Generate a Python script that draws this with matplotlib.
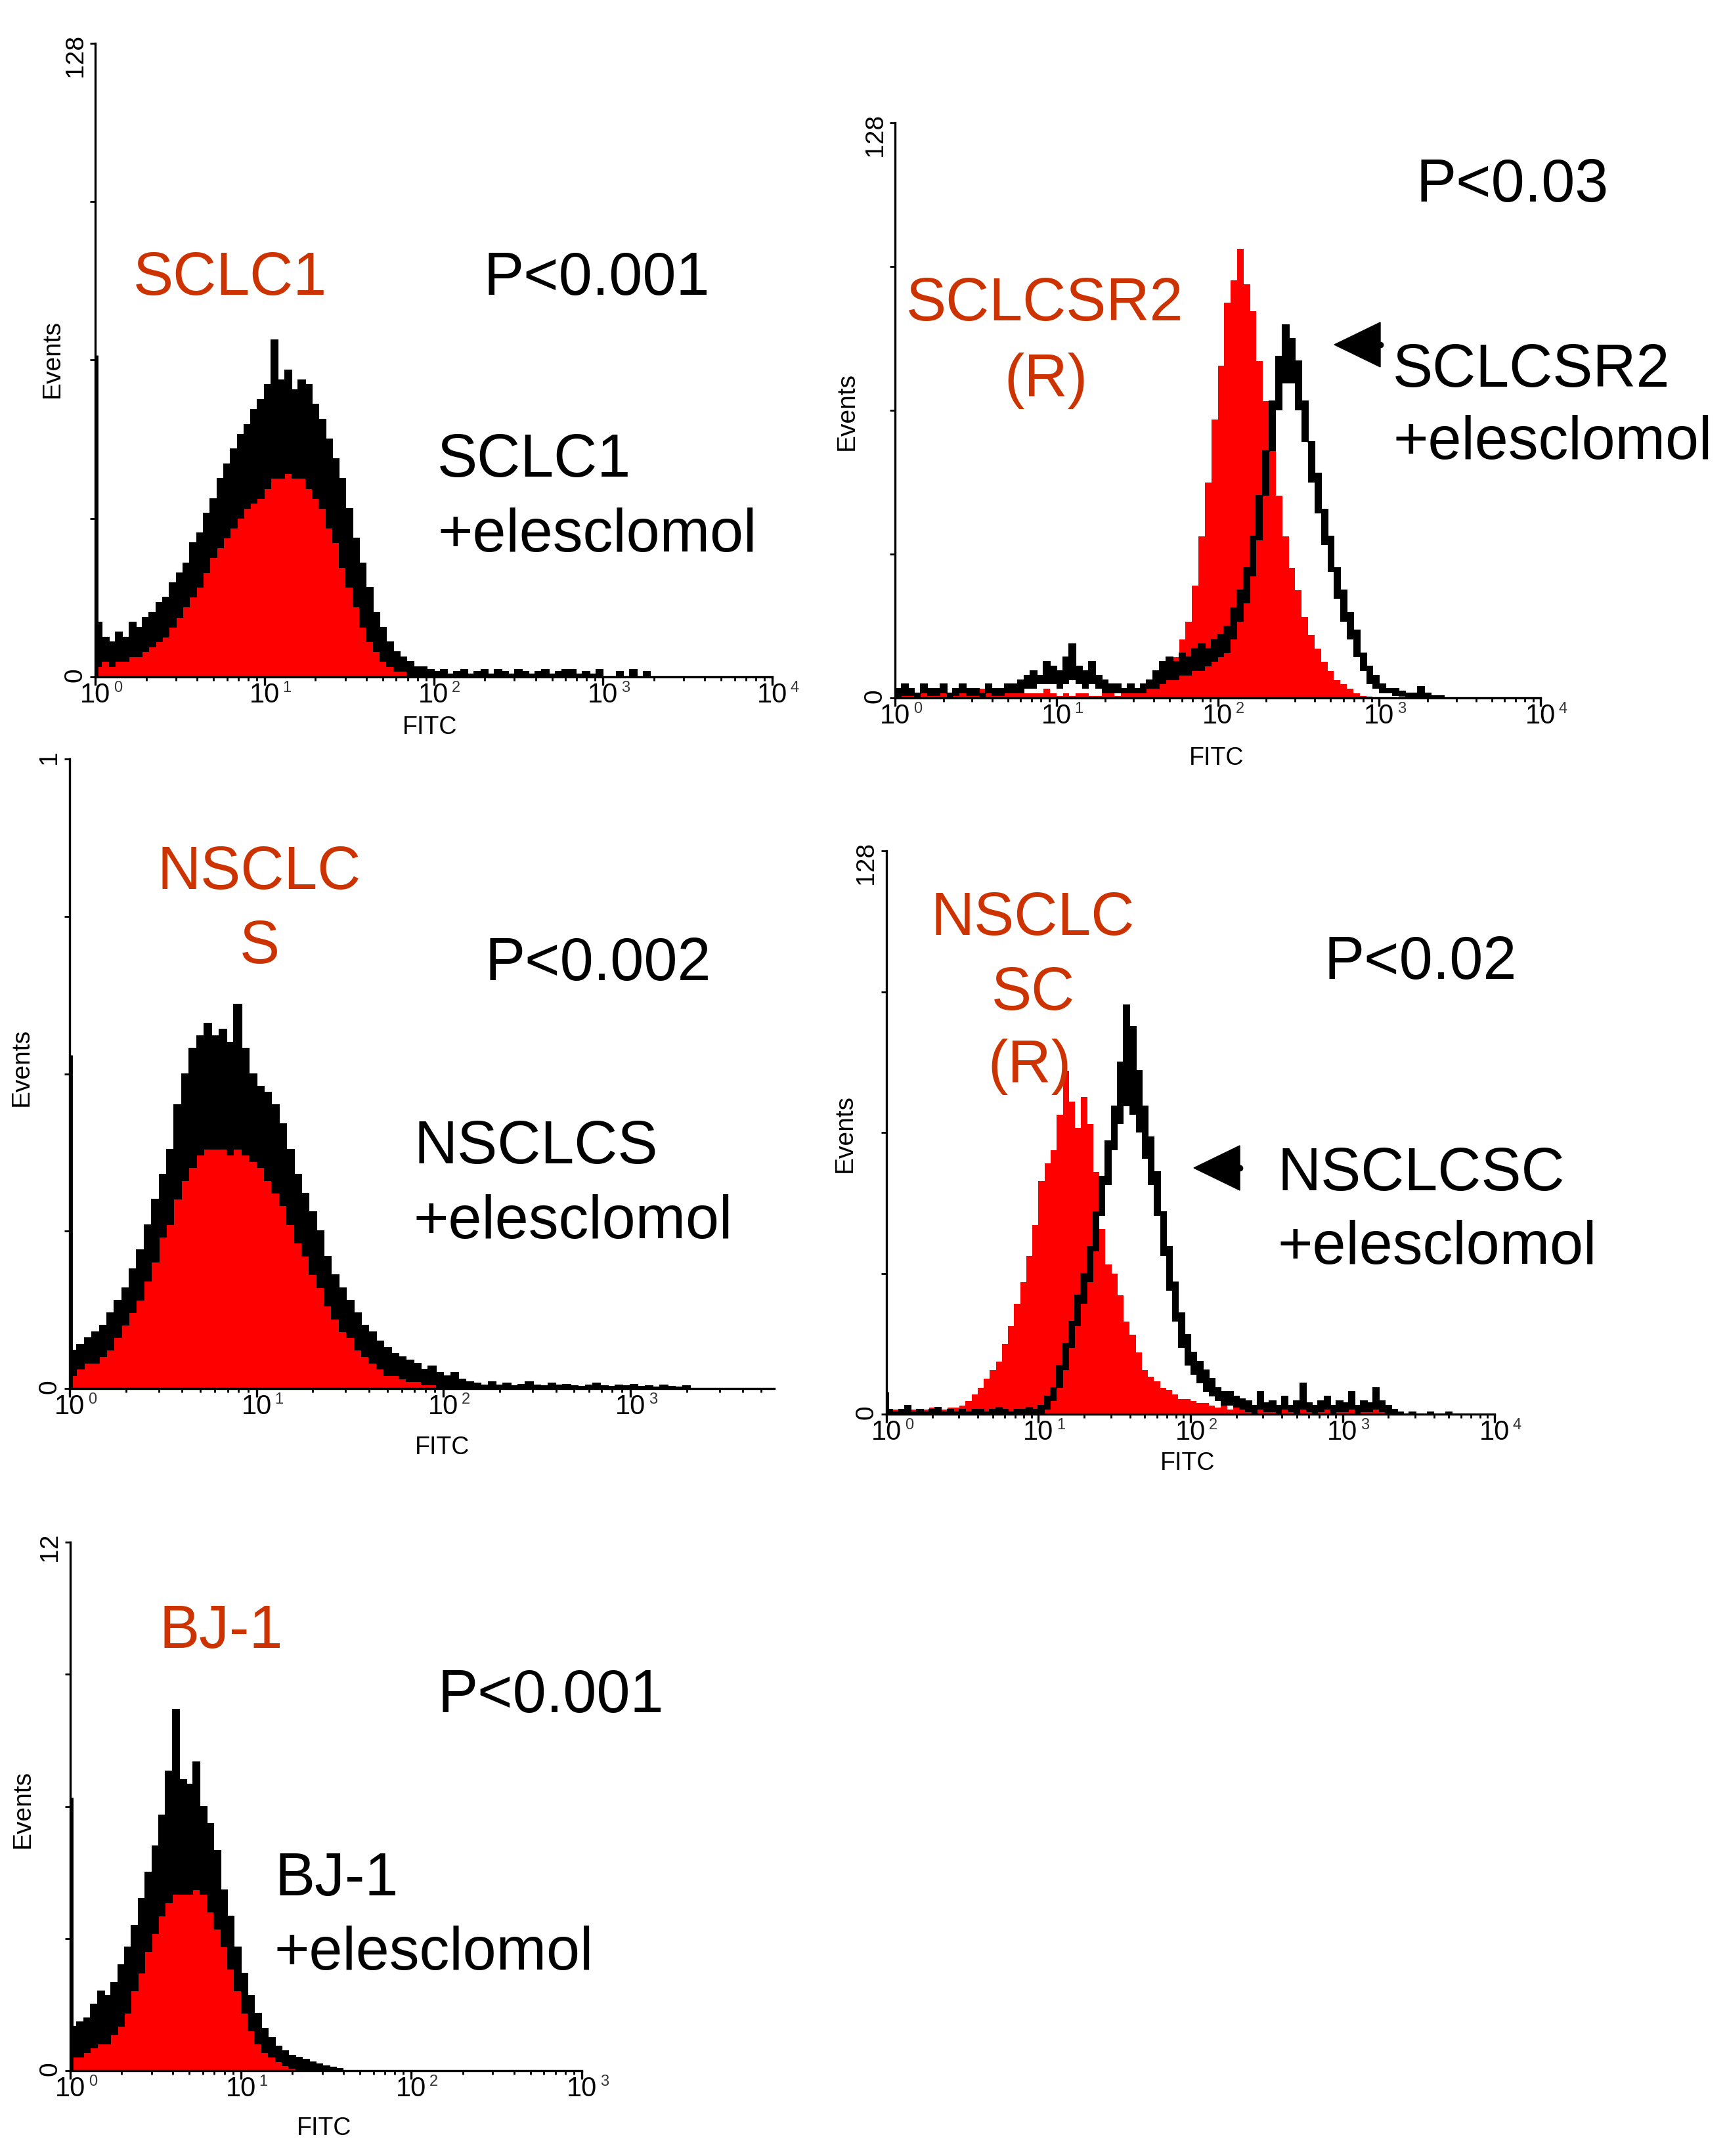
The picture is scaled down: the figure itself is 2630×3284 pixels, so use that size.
import numpy as np
import matplotlib.pyplot as plt
from matplotlib.patches import Polygon
from matplotlib.lines import Line2D
from matplotlib.ticker import LogLocator, NullFormatter

plt.rcParams['font.family'] = ['Liberation Sans', 'DejaVu Sans']

W, H = 2630, 3284
BIN = 0.04  # width of one channel bin, in log10 units
LABEL_RED = '#CC3300'
FILL_RED = '#FF0000'

# ---------------- data (counts per log channel bin) ----------------
# SCLC1
sclc1_ctrl = [3, 6, 4, 5, 4, 7, 8, 9, 10, 11, 12, 12, 14, 16, 18, 20, 22, 24, 27, 29,
              31, 32, 34, 35, 36, 38, 44, 40, 41, 40, 40, 38, 36, 34, 31, 28, 23, 18, 15, 11,
              8, 5, 3, 2, 1.5, 1, 0.5, 0.5, 0, 0.3]
sclc1_hi = [11, 8, 7, 9, 8, 11, 10, 12, 13, 15, 16, 19, 21, 23, 27, 29, 33, 36, 40, 43,
            46, 49, 51, 54, 56, 59, 68, 60, 62, 58, 60, 59, 55, 52, 48, 44, 40, 34, 28, 23,
            18, 13, 10, 7, 5, 4, 3, 2, 2, 1.5,
            1, 1.5, 0.5, 1, 1.5, 0.5, 1, 1.5, 0.5, 1.5, 1, 0.5, 1.5, 1, 0.5, 1, 1.5, 0.5,
            1, 1.5, 1.5, 0.5, 1, 0.5, 1.5, 0, 0, 1, 0, 1.5, 0, 1]
sclc1_lo = [2, 3, 2, 3, 3, 4, 4, 5, 6, 7, 8, 10, 12, 14, 16, 18, 21, 24, 26, 28,
            30, 32, 34, 35, 36, 38, 40, 40, 41, 40, 40, 38, 36, 34, 30, 27, 22, 18, 14, 10,
            7, 5, 3, 2, 1, 1, 0, 0, 0, 0,
            0, 0, 0, 0, 0, 0, 0, 0, 0, 0, 0, 0, 0, 0, 0, 0, 0, 0, 0, 0, 0, 0, 0, 0, 0, 0,
            0, 0, 0, 0, 0, 0]
sclc1_first = 65

# SCLCSR2 (R)
sclcsr2_ctrl = [1, 2, 1, 1, 2, 1, 2, 1, 1, 2, 1, 1, 2, 2, 1, 1, 2, 1, 1, 2,
                1, 1, 1, 2, 1, 0.5, 1, 0.5, 1, 1, 0.5, 0.5, 1, 1, 0.5, 1, 1, 2, 2, 3,
                4, 5, 6, 9, 13, 17, 25, 36, 48, 62, 74, 88, 93, 100, 92, 86, 75, 66, 55, 45,
                36, 29, 24, 18, 14, 11, 8, 6, 4, 3, 2, 1, 0.5, 0.3]
sclcsr2_hi = [2, 3, 2, 1, 3, 2, 2, 3, 1, 2, 3, 2, 2, 1, 3, 2, 2, 3, 3, 4,
              5, 6, 5, 8, 7, 6, 9, 12, 7, 6, 8, 5, 4, 3, 3, 2, 3, 2, 3, 4,
              6, 8, 9, 8, 10, 9, 11, 12, 11, 13, 14, 16, 20, 24, 29, 36, 45, 55, 66, 76,
              83, 80, 75, 66, 57, 50, 42, 36, 29, 24, 19, 15, 10, 7, 5, 3, 2, 2, 1.5, 1,
              1, 2.5, 1, 0.5, 0.5]
sclcsr2_lo = [0, 0.5, 0.5, 0, 1, 0.5, 0.5, 1, 0, 0.5, 1, 0.5, 0.5, 0, 1, 0.5, 0.5, 1, 1, 1,
              2, 2, 3, 3, 3, 2, 3, 4, 3, 2, 3, 2, 1, 1, 1, 1, 1, 1, 1, 2,
              2, 3, 4, 4, 5, 5, 6, 6, 7, 8, 9, 10, 13, 17, 21, 27, 35, 45, 55, 64,
              70, 70, 64, 57, 48, 41, 34, 28, 22, 17, 13, 9, 6, 3, 2, 1, 1, 0.5, 0.3, 0,
              0, 0, 0, 0, 0]
sclcsr2_first = 0

# NSCLCS (axis top is 1)
nsclcs_ctrl = [0.03, 0.04, 0.05, 0.04, 0.06, 0.07, 0.09, 0.11, 0.14, 0.17,
               0.20, 0.25, 0.30, 0.33, 0.35, 0.36, 0.37, 0.38, 0.41, 0.40,
               0.42, 0.40, 0.47, 0.40, 0.39, 0.40, 0.37, 0.34, 0.30, 0.28,
               0.25, 0.22, 0.20, 0.17, 0.14, 0.12, 0.10, 0.08, 0.07, 0.06,
               0.05, 0.04, 0.03, 0.025, 0.02, 0.015, 0.01, 0.01, 0.008, 0.005,
               0.004, 0.003, 0.003, 0.002]
nsclcs_hi = [0.06, 0.07, 0.08, 0.09, 0.10, 0.12, 0.14, 0.16, 0.19, 0.22,
             0.26, 0.30, 0.34, 0.38, 0.45, 0.50, 0.54, 0.56, 0.58, 0.56,
             0.57, 0.55, 0.61, 0.54, 0.50, 0.48, 0.47, 0.45, 0.42, 0.38,
             0.34, 0.31, 0.28, 0.25, 0.21, 0.18, 0.16, 0.14, 0.12, 0.10,
             0.09, 0.075, 0.065, 0.055, 0.05, 0.045, 0.04, 0.03, 0.035, 0.025,
             0.02, 0.025, 0.015, 0.01,
             0.008, 0.005, 0.01, 0.005, 0.008, 0.004, 0.006, 0.01, 0.005, 0.004,
             0.008, 0.005, 0.006, 0.004, 0.003, 0.005, 0.008, 0.004, 0.003, 0.005,
             0.004, 0.006, 0.003, 0.004, 0.002, 0.005, 0.003, 0.002, 0.004]
nsclcs_lo = [0.02, 0.03, 0.04, 0.04, 0.05, 0.06, 0.08, 0.10, 0.12, 0.14,
             0.17, 0.20, 0.24, 0.26, 0.30, 0.33, 0.35, 0.37, 0.38, 0.38,
             0.38, 0.37, 0.38, 0.37, 0.36, 0.35, 0.33, 0.31, 0.29, 0.26,
             0.23, 0.21, 0.18, 0.16, 0.13, 0.11, 0.09, 0.08, 0.06, 0.05,
             0.04, 0.03, 0.02, 0.02, 0.015, 0.01, 0.01, 0.005, 0.005, 0,
             0, 0, 0, 0,
             0, 0, 0, 0, 0, 0, 0, 0, 0, 0, 0, 0, 0, 0, 0, 0, 0, 0, 0, 0,
             0, 0, 0, 0, 0, 0, 0, 0, 0]
nsclcs_first = 0.53

# NSCLCSC (R)
nsclcsc_ctrl = [0.5, 1, 0.5, 0.5, 1, 0.5, 1, 1.5, 1, 1, 1.5,
                1.5, 2, 3, 4.5, 6, 8, 10, 12, 16, 20, 25, 30, 36, 43, 53, 57, 60, 68, 78,
                71, 65, 72, 66, 55, 42, 34, 32, 27, 21, 18, 14, 10, 8.5, 7.5, 6, 5.5, 4.5,
                3.5, 3.5, 3, 2.5, 2.5, 2,
                1.5, 2, 1, 1.5, 1, 2, 1.5, 1, 1, 2, 1.5, 1, 1, 1.5, 1, 2, 1, 1.5, 1, 1,
                2, 1, 1.5, 1, 1, 1.5, 1, 1, 1.5]
nsclcsc_hi = [1, 0.5, 1, 2, 0.5, 1, 0.5, 1, 1.5, 0.5, 1, 0.5, 1, 0.5, 1, 1, 0.5, 1, 1.5, 1,
              0.5, 1, 1, 1.5, 1,
              2, 4, 6, 11, 16, 21, 27, 32, 38, 46, 54, 62, 70, 80, 93, 88, 78, 70, 63, 55,
              46, 38, 30, 23, 18, 14, 12, 10, 8, 6, 5, 5, 4, 3.5,
              3, 2, 5, 2.5, 3, 2, 4, 2, 3, 7, 2.5, 2, 3, 4, 2, 3, 2.5, 5, 2, 3, 2.5, 6, 3, 2,
              1, 0.5, 0, 0.5, 0, 0, 0.5, 0, 0, 0.5, 0, 0, 0]
nsclcsc_lo = [0, 0, 0, 0, 0, 0, 0, 0, 0, 0, 0, 0, 0, 0, 0, 0, 0, 0, 0, 0, 0, 0, 0, 0, 0,
              0, 1, 3, 6, 10, 15, 20, 25, 30, 37, 45, 52, 60, 66, 70, 68, 64, 58, 52, 45,
              36, 28, 21, 15, 11, 9, 7, 5, 4, 3, 2, 2, 1.5, 1,
              0.5, 0, 1, 0.5, 0.5, 0, 1, 0.5, 0, 1, 0.5, 0, 0.5, 1, 0, 0.5, 0.5, 1, 0, 0.5,
              0.5, 1, 0.5, 0,
              0, 0, 0, 0, 0, 0, 0, 0, 0, 0, 0, 0, 0]
nsclcsc_first = 5

# BJ-1
bj1_ctrl = [0.6, 0.4, 0.7, 1.0, 1.7, 1.4, 1.1, 1.5, 2.0, 2.5, 2.9, 3.3, 3.6, 4.2, 5.0,
            6.5, 4.6, 4.9, 5.0, 5.3, 5.0, 4.4, 3.8, 3.0, 2.3, 1.8, 1.4, 1.0, 0.8, 0.6,
            0.5, 0.4, 0.3, 0.25, 0.2, 0.1, 0.05, 0, 0, 0]
bj1_hi = [1.0, 1.1, 1.2, 1.5, 1.8, 1.7, 2.0, 2.4, 2.8, 3.3, 3.9, 4.5, 5.1, 5.8, 6.8,
          8.2, 6.6, 6.5, 7.0, 6.0, 5.6, 5.0, 4.1, 3.5, 2.8, 2.2, 1.7, 1.3, 0.95, 0.75,
          0.55, 0.45, 0.35, 0.3, 0.25, 0.2, 0.15, 0.1, 0.08, 0.05]
bj1_lo = [0.3, 0.3, 0.4, 0.5, 0.6, 0.6, 0.8, 1.0, 1.3, 1.8, 2.2, 2.7, 3.1, 3.5, 3.8,
          4.0, 4.0, 4.0, 4.1, 4.0, 3.6, 3.2, 2.8, 2.3, 1.8, 1.3, 0.9, 0.6, 0.4, 0.3,
          0.2, 0.1, 0.05, 0, 0, 0, 0, 0, 0, 0]
bj1_first = 6.2

# ---------------- panel layout ----------------
panels = [
    # box (left, right, top, bottom) in px, ymax, top label, x max exponent, decades
    dict(box=(145, 1176, 66, 1031), ymax=128, ytop='128', xexp=4, dec=[0, 1, 2, 3, 4],
         ctrl=sclc1_ctrl, hi=sclc1_hi, lo=sclc1_lo, first=sclc1_first,
         events=(80, 547), fitc=(655, 1108)),
    dict(box=(1363, 2346, 187, 1063), ymax=128, ytop='128', xexp=4, dec=[0, 1, 2, 3, 4],
         ctrl=sclcsr2_ctrl, hi=sclcsr2_hi, lo=sclcsr2_lo, first=sclcsr2_first,
         events=(1290, 626), fitc=(1853, 1155)),
    dict(box=(106, 1179, 1156, 2115), ymax=1, ytop='1', xexp=3.77, dec=[0, 1, 2, 3],
         ctrl=nsclcs_ctrl, hi=nsclcs_hi, lo=nsclcs_lo, first=nsclcs_first,
         events=(33, 1625), fitc=(674, 2205)),
    dict(box=(1350, 2276, 1296, 2154), ymax=128, ytop='128', xexp=4, dec=[0, 1, 2, 3, 4],
         ctrl=nsclcsc_ctrl, hi=nsclcsc_hi, lo=nsclcsc_lo, first=nsclcsc_first,
         events=(1287, 1726), fitc=(1809, 2229)),
    dict(box=(107, 886, 2349, 3154), ymax=12, ytop='12', xexp=3, dec=[0, 1, 2, 3],
         ctrl=bj1_ctrl, hi=bj1_hi, lo=bj1_lo, first=bj1_first,
         events=(35, 2755), fitc=(494, 3242)),
]


def fx(x):
    return x / W


def fy(y):
    return 1 - y / H


fig = plt.figure(figsize=(W / 100, H / 100), dpi=100)

for p in panels:
    l, r, t, b = p['box']
    ax = fig.add_axes([fx(l), fy(b), (r - l) / W, (b - t) / H])

    e_ctrl = 10 ** (BIN * np.arange(len(p['ctrl']) + 1))
    e_test = 10 ** (BIN * np.arange(len(p['hi']) + 1))
    ax.stairs(p['ctrl'], e_ctrl, fill=True, color=FILL_RED, lw=0)
    ax.stairs(p['hi'], e_test, baseline=p['lo'], fill=True, color='black', lw=0)
    ax.stairs(p['hi'], e_test, color='black', lw=1.5)
    if p['first'] > 0:
        ax.vlines(10 ** 0.006, 0, p['first'], color='black', lw=3.5)

    ax.set_xscale('log')
    ax.set_xlim(1, 10 ** p['xexp'])
    ax.set_ylim(0, p['ymax'])

    for s in ['top', 'right']:
        ax.spines[s].set_visible(False)
    for s in ['left', 'bottom']:
        ax.spines[s].set_linewidth(2.4)

    ym = p['ymax']
    ax.set_yticks([0, ym / 4, ym / 2, 3 * ym / 4, ym])
    ax.set_yticklabels(['0', '', '', '', p['ytop']])
    ax.tick_params(axis='y', direction='out', length=6, width=2, labelsize=28,
                   labelrotation=90, pad=3)

    ax.set_xticks([10 ** k for k in p['dec']])
    ax.set_xticklabels([])
    ax.xaxis.set_minor_locator(LogLocator(base=10, subs=np.arange(2, 10)))
    ax.xaxis.set_minor_formatter(NullFormatter())
    ax.tick_params(axis='x', which='major', direction='out', length=9, width=2.4)
    ax.tick_params(axis='x', which='minor', direction='out', length=4, width=2)

    for k in p['dec']:
        ax.annotate('10', xy=(10 ** k, 0), xycoords=('data', 'axes fraction'),
                    xytext=(0, -6), textcoords='offset points',
                    ha='center', va='top', fontsize=30, annotation_clip=False)
        ax.annotate(str(k), xy=(10 ** k, 0), xycoords=('data', 'axes fraction'),
                    xytext=(20, -4), textcoords='offset points',
                    ha='left', va='top', fontsize=17, color='#333333',
                    annotation_clip=False)

    ex, ey = p['events']
    fig.text(fx(ex), fy(ey), 'Events', rotation=90, ha='center', va='center', fontsize=28)
    tx, ty = p['fitc']
    fig.text(fx(tx), fy(ty), 'FITC', ha='center', va='center', fontsize=27)

# ---------------- annotations ----------------
BIG = 66
labels = [
    # text, x, baseline y, colour, alignment
    ('SCLC1', 203, 449, LABEL_RED, 'left'),
    ('P<0.001', 736, 449, 'black', 'left'),
    ('SCLC1', 666, 726, 'black', 'left'),
    ('+elesclomol', 666, 840, 'black', 'left'),
    ('P<0.03', 2157, 307, 'black', 'left'),
    ('SCLCSR2', 1591, 488, LABEL_RED, 'center'),
    ('(R)', 1593, 604, LABEL_RED, 'center'),
    ('SCLCSR2', 2121, 589, 'black', 'left'),
    ('+elesclomol', 2121, 699, 'black', 'left'),
    ('NSCLC', 395, 1354, LABEL_RED, 'center'),
    ('S', 395, 1467, LABEL_RED, 'center'),
    ('P<0.002', 738, 1493, 'black', 'left'),
    ('NSCLCS', 630, 1772, 'black', 'left'),
    ('+elesclomol', 630, 1886, 'black', 'left'),
    ('NSCLC', 1573, 1424, LABEL_RED, 'center'),
    ('SC', 1573, 1538, LABEL_RED, 'center'),
    ('(R)', 1568, 1649, LABEL_RED, 'center'),
    ('P<0.02', 2016, 1491, 'black', 'left'),
    ('NSCLCSC', 1945, 1813, 'black', 'left'),
    ('+elesclomol', 1945, 1925, 'black', 'left'),
    ('BJ-1', 242, 2510, LABEL_RED, 'left'),
    ('P<0.001', 666, 2608, 'black', 'left'),
    ('BJ-1', 418, 2887, 'black', 'left'),
    ('+elesclomol', 418, 3000, 'black', 'left'),
]
for s, x, y, c, ha in labels:
    fig.text(fx(x), fy(y), s, color=c, ha=ha, va='baseline', fontsize=BIG)

# arrow heads pointing at the treated curves: (tip x, tip y, base x, half height)
arrows = [(2032, 525, 2102, 34), (1818, 1779, 1888, 34)]
for tx, ty, bx, hh in arrows:
    tri = Polygon([[fx(tx), fy(ty)], [fx(bx), fy(ty - hh)], [fx(bx), fy(ty + hh)]],
                  closed=True, color='black', transform=fig.transFigure)
    fig.add_artist(tri)
    fig.add_artist(Line2D([fx(bx)], [fy(ty)], marker='o', ms=6, color='black',
                          transform=fig.transFigure))

fig.savefig('out.png', dpi=100, facecolor='white')
